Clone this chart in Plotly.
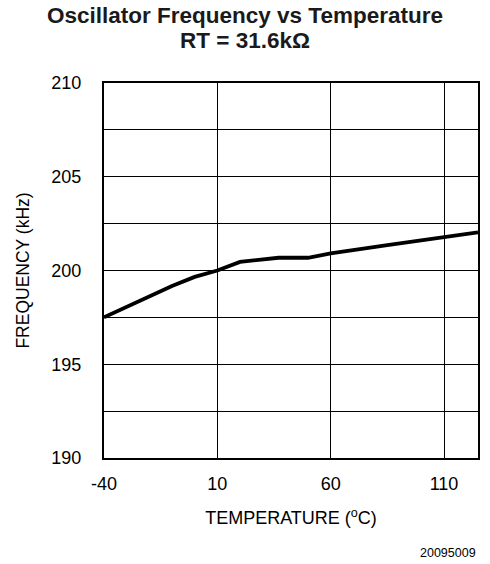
import plotly.graph_objects as go

temperature = [-40, -30, -20, -10, 0, 10, 20, 30, 37, 50, 60, 85, 110, 125]
frequency = [197.5, 198.07, 198.64, 199.17, 199.66, 200.0, 200.46, 200.6, 200.68, 200.68, 200.91, 201.35, 201.8, 202.03]

x_ticks = [-40, 10, 60, 110]
y_ticks = [190, 195, 200, 205, 210]
y_minor_grid = [192.5, 197.5, 202.5, 207.5]

title_lines = ["Oscillator Frequency vs Temperature", "RT = 31.6kΩ"]
FONT = "Liberation Sans, Arial, Helvetica, sans-serif"

fig = go.Figure()
fig.add_trace(go.Scatter(x=temperature, y=frequency, mode="lines",
                         line=dict(color="black", width=3.8), showlegend=False))

fig.update_layout(
    width=490, height=564,
    margin=dict(l=104, r=10, t=83, b=106),
    paper_bgcolor="white", plot_bgcolor="white",
    font=dict(family=FONT, color="black", size=18),
)
fig.update_xaxes(range=[-40, 125], tickvals=x_ticks, ticktext=[str(v) for v in x_ticks],
                 showgrid=True, gridcolor="black", gridwidth=1,
                 showline=True, linecolor="black", linewidth=2, mirror=True,
                 zeroline=False, ticks="", ticklabelstandoff=8,
                 tickfont=dict(size=18),
                 title=dict(text="TEMPERATURE (<sup>o</sup>C)", font=dict(size=18), standoff=19))
fig.update_yaxes(range=[190, 210], tickvals=y_ticks, ticktext=[str(v) for v in y_ticks],
                 showgrid=True, gridcolor="black", gridwidth=1,
                 minor=dict(tickvals=y_minor_grid, showgrid=True, gridcolor="black", gridwidth=1, ticks=""),
                 showline=True, linecolor="black", linewidth=2, mirror=True,
                 zeroline=False, ticks="", ticklabelstandoff=17,
                 tickfont=dict(size=18),
                 title=dict(text="FREQUENCY (kHz)", font=dict(size=17.5), standoff=17))

# two-line bold title, centred on the page
title_x = (245.5 - 104) / 376
fig.add_annotation(text="<b>" + title_lines[0] + "</b>", xref="paper", yref="paper",
                   x=title_x, y=1.1787, xanchor="center", yanchor="middle", showarrow=False,
                   font=dict(size=22.5, family=FONT, color="#1a1a1a"))
fig.add_annotation(text="<b>" + title_lines[1] + "</b>", xref="paper", yref="paper",
                   x=title_x, y=1.112, xanchor="center", yanchor="middle", showarrow=False,
                   font=dict(size=22.5, family=FONT, color="#1a1a1a"))

fig.add_annotation(text="20095009", xref="paper", yref="paper", x=1, y=-0.2533,
                   xanchor="right", yanchor="middle", showarrow=False,
                   font=dict(size=12.5, family=FONT))

fig.write_html("out.html", config={"displayModeBar": False},
               post_script="document.body.style.margin='0px';")
